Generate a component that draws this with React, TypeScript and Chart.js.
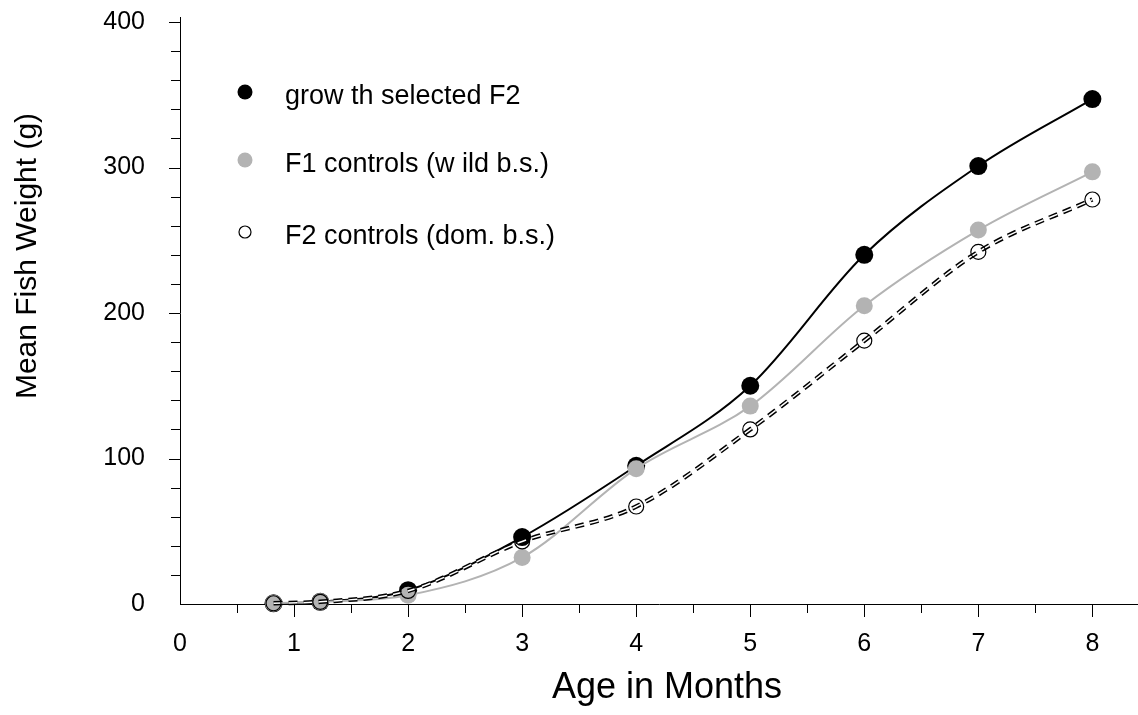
import React, { useEffect, useRef } from "react";
import { Chart, registerables } from "chart.js";

Chart.register(...registerables);

// ---- data ----
const ages = [0.82, 1.23, 2, 3, 4, 5, 6, 7, 8];
const growthSelectedF2 = [0.5, 1.5, 9.5, 46, 95, 150, 240, 301, 347];
const f1ControlsWild = [0.5, 1.5, 6, 32, 93, 136, 205, 257, 297];
const f2ControlsDom = [0.5, 1.5, 9, 43, 67, 120, 181, 242, 278];

const xTickLabels = ["0", "1", "2", "3", "4", "5", "6", "7", "8"];
const yTickLabels = ["0", "100", "200", "300", "400"];
const legendLabels = [
  "grow th selected F2",
  "F1 controls (w ild b.s.)",
  "F2 controls (dom. b.s.)",
];
const xTitle = "Age in Months";
const yTitle = "Mean Fish Weight (g)";

// ---- styles ----
const FONT = '"Liberation Sans", Arial, sans-serif';
const GRAY = "#b3b3b3";
const BLACK = "#000000";

const toPoints = (ys: number[]) => ages.map((x, i) => ({ x, y: ys[i] }));

const decorPlugin = {
  id: "decor",
  afterDraw(chart: any) {
    const ctx = chart.ctx;
    const xs = chart.scales.x;
    const ys = chart.scales.y;
    ctx.save();
    ctx.strokeStyle = BLACK;
    ctx.lineWidth = 1;
    // x tick marks (outward)
    xs.ticks.forEach((t: any) => {
      const v = t.value;
      if (v === 0) return;
      const px = Math.round(xs.getPixelForValue(v)) + 0.5;
      const len = Number.isInteger(v) ? 13 : 9;
      ctx.beginPath();
      ctx.moveTo(px, xs.top);
      ctx.lineTo(px, xs.top + len);
      ctx.stroke();
    });
    // y tick marks (outward)
    ys.ticks.forEach((t: any) => {
      const v = t.value;
      if (v === 0) return;
      const py = Math.round(ys.getPixelForValue(v)) + 0.5;
      const len = v % 100 === 0 ? 11 : 9;
      ctx.beginPath();
      ctx.moveTo(ys.right - len, py);
      ctx.lineTo(ys.right, py);
      ctx.stroke();
    });
    // small extension of the y axis above the 400 tick
    ctx.beginPath();
    ctx.moveTo(Math.round(ys.right) + 0.5, ys.top);
    ctx.lineTo(Math.round(ys.right) + 0.5, ys.top - 5);
    ctx.stroke();

    // axis titles
    ctx.fillStyle = BLACK;
    ctx.textAlign = "center";
    ctx.textBaseline = "middle";
    ctx.font = `36px ${FONT}`;
    ctx.fillText(xTitle, 667, 688);
    ctx.save();
    ctx.translate(28, 256);
    ctx.rotate(-Math.PI / 2);
    ctx.font = `30px ${FONT}`;
    ctx.fillText(yTitle, 0, 0);
    ctx.restore();

    // legend
    const lx = 245;
    const rows = [92, 160, 232];
    ctx.beginPath();
    ctx.fillStyle = BLACK;
    ctx.arc(lx, rows[0], 7.5, 0, Math.PI * 2);
    ctx.fill();
    ctx.beginPath();
    ctx.fillStyle = GRAY;
    ctx.arc(lx, rows[1], 7.5, 0, Math.PI * 2);
    ctx.fill();
    ctx.beginPath();
    ctx.strokeStyle = BLACK;
    ctx.lineWidth = 1.2;
    ctx.arc(lx, rows[2], 6, 0, Math.PI * 2);
    ctx.stroke();

    ctx.fillStyle = BLACK;
    ctx.textAlign = "left";
    ctx.textBaseline = "alphabetic";
    ctx.font = `27px ${FONT}`;
    legendLabels.forEach((lab, i) => {
      ctx.fillText(lab, 285, rows[i] + 12);
    });
    ctx.restore();
  },
};

export default function App() {
  const canvasRef = useRef<HTMLCanvasElement | null>(null);

  useEffect(() => {
    document.body.style.margin = "0";
    const canvas = canvasRef.current;
    if (!canvas) return;
    const chart = new Chart(canvas, {
      type: "line",
      data: {
        datasets: [
          {
            label: legendLabels[0],
            data: toPoints(growthSelectedF2),
            borderColor: BLACK,
            borderWidth: 2,
            backgroundColor: BLACK,
            pointRadius: 9,
            pointBackgroundColor: BLACK,
            pointBorderWidth: 0,
            cubicInterpolationMode: "monotone",
            clip: false,
            order: 5,
          },
          {
            label: legendLabels[1],
            data: toPoints(f1ControlsWild),
            borderColor: GRAY,
            borderWidth: 2,
            backgroundColor: GRAY,
            pointRadius: 8.5,
            pointBackgroundColor: GRAY,
            pointBorderWidth: 0,
            cubicInterpolationMode: "monotone",
            clip: false,
            order: 4,
          },
          {
            label: legendLabels[2] + " outer",
            data: toPoints(f2ControlsDom),
            borderColor: BLACK,
            borderWidth: 4.5,
            borderDash: [9, 6],
            pointRadius: 0,
            cubicInterpolationMode: "monotone",
            clip: false,
            order: 3,
          },
          {
            label: legendLabels[2] + " inner",
            data: toPoints(f2ControlsDom),
            borderColor: "#ffffff",
            borderWidth: 1.5,
            borderDash: [9, 6],
            pointRadius: 0,
            cubicInterpolationMode: "monotone",
            clip: false,
            order: 2,
          },
          {
            label: legendLabels[2],
            data: toPoints(f2ControlsDom),
            showLine: false,
            pointRadius: 7.5,
            pointBackgroundColor: "rgba(0,0,0,0)",
            pointBorderColor: BLACK,
            pointBorderWidth: 1.2,
            clip: false,
            order: 1,
          },
        ],
      },
      options: {
        responsive: false,
        animation: false,
        events: [],
        layout: {
          autoPadding: false,
          padding: { top: 22, left: 0, right: 0, bottom: 0 },
        },
        plugins: {
          legend: { display: false },
          tooltip: { enabled: false },
          title: { display: false },
        },
        scales: {
          x: {
            type: "linear",
            min: 0,
            max: 8.4,
            grid: { display: false, drawTicks: false },
            border: { display: true, color: BLACK, width: 1 },
            ticks: {
              stepSize: 0.5,
              includeBounds: false,
              autoSkip: false,
              maxRotation: 0,
              padding: 25,
              color: BLACK,
              font: { family: FONT, size: 25 },
              callback: (v: any) =>
                Number.isInteger(v) ? xTickLabels[v] ?? "" : "",
            },
            afterFit: (scale: any) => {
              scale.height = 111;
              scale.paddingLeft = 0;
              scale.paddingRight = 0;
            },
          },
          y: {
            type: "linear",
            min: 0,
            max: 400,
            grid: { display: false, drawTicks: false },
            border: { display: true, color: BLACK, width: 1 },
            ticks: {
              stepSize: 20,
              autoSkip: false,
              padding: 35,
              color: BLACK,
              font: { family: FONT, size: 25 },
              callback: (v: any) =>
                v % 100 === 0 ? yTickLabels[v / 100] ?? "" : "",
            },
            afterFit: (scale: any) => {
              scale.width = 180;
              scale.paddingTop = 0;
              scale.paddingBottom = 0;
            },
          },
        },
      },
      plugins: [decorPlugin],
    });
    return () => chart.destroy();
  }, []);

  return (
    <div style={{ width: 1138, height: 715, background: "#fff" }}>
      <canvas
        ref={canvasRef}
        width={1138}
        height={715}
        style={{ display: "block" }}
      />
    </div>
  );
}
